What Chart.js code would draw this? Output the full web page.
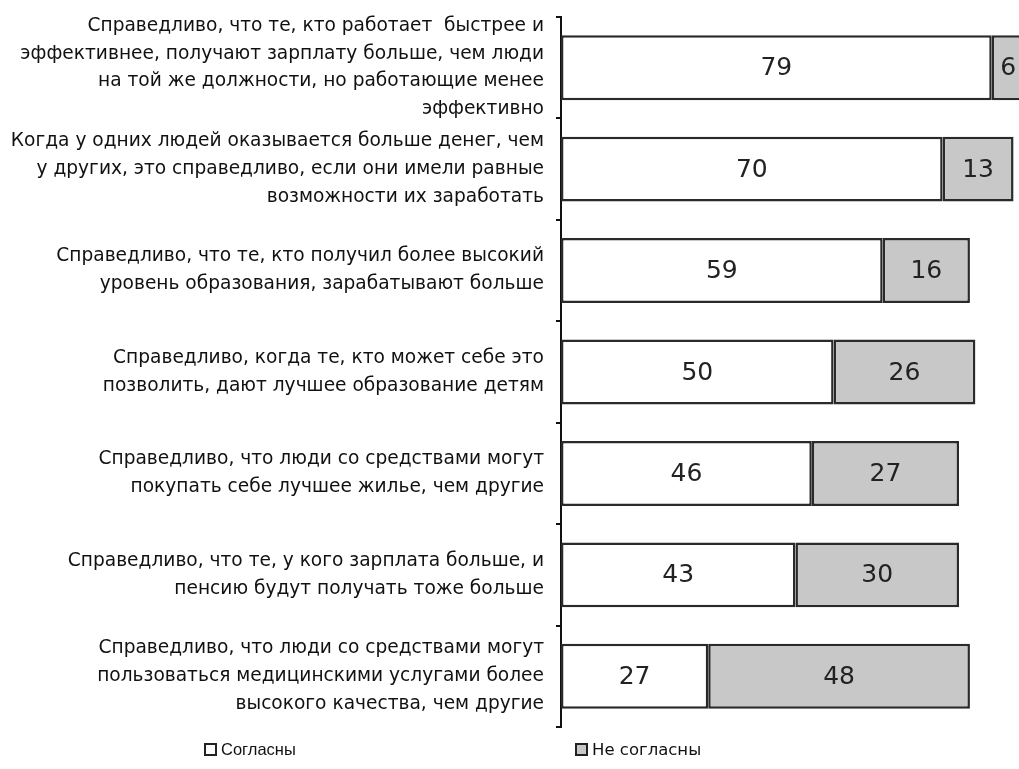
<!DOCTYPE html>
<html><head><meta charset="utf-8">
<script src="https://cdn.jsdelivr.net/npm/chart.js@4/dist/chart.umd.min.js"></script>
<style>
html,body{margin:0;padding:0;background:#fff;}
#wrap{position:relative;width:1019px;height:769px;overflow:hidden;}
canvas{position:absolute;left:0;top:0;}
.lg{position:absolute;top:740px;font-size:17px;color:#111;display:flex;align-items:center;white-space:nowrap;}
.bx{display:inline-block;width:9px;height:9px;border:2px solid #222;margin-right:4px;}
</style></head>
<body><div id="wrap"><canvas id="c" width="1019" height="769"></canvas>
<div class="lg" style="left:204px;font-family:'Liberation Sans Narrow','Liberation Sans',sans-serif;font-size:16.5px;"><span class="bx" style="background:#fff"></span>Согласны</div>
<div class="lg" style="left:575px;font-family:'DejaVu Sans',sans-serif;font-size:16.5px;"><span class="bx" style="background:#c8c8c8"></span>Не согласны</div>
</div>
<script>
const categories = [
  ["Справедливо, что те, кто работает  быстрее и", "эффективнее, получают зарплату больше, чем люди", "на той же должности, но работающие менее", "эффективно"],
  ["Когда у одних людей оказывается больше денег, чем", "у других, это справедливо, если они имели равные", "возможности их заработать"],
  ["Справедливо, что те, кто получил более высокий", "уровень образования, зарабатывают больше"],
  ["Справедливо, когда те, кто может себе это", "позволить, дают лучшее образование детям"],
  ["Справедливо, что люди со средствами могут", "покупать себе лучшее жилье, чем другие"],
  ["Справедливо, что те, у кого зарплата больше, и", "пенсию будут получать тоже больше"],
  ["Справедливо, что люди со средствами могут", "пользоваться медицинскими услугами более", "высокого качества, чем другие"]
];
const agree = [79, 70, 59, 50, 46, 43, 27];
const disagree = [6, 13, 16, 26, 27, 30, 48];
const seriesNames = ["Согласны", "Не согласны"];

const valueLabels = {
  id: 'valueLabels',
  afterDatasetsDraw(chart) {
    const ctx = chart.ctx;
    ctx.save();
    ctx.font = "25px 'DejaVu Sans', sans-serif";
    ctx.fillStyle = '#222';
    ctx.textAlign = 'center';
    ctx.textBaseline = 'middle';
    chart.data.datasets.forEach((ds, di) => {
      chart.getDatasetMeta(di).data.forEach((bar, i) => {
        const cx = (bar.x + bar.base) / 2;
        ctx.fillText(String(ds.data[i]), cx, bar.y + 1);
      });
    });
    ctx.restore();
  }
};

new Chart(document.getElementById('c'), {
  type: 'bar',
  data: {
    labels: categories,
    datasets: [
      { label: seriesNames[0], data: agree, backgroundColor: '#ffffff', borderColor: '#2a2a2a', borderWidth: 2.5, borderSkipped: false },
      { label: seriesNames[1], data: disagree, backgroundColor: '#c8c8c8', borderColor: '#2a2a2a', borderWidth: 2.5, borderSkipped: false }
    ]
  },
  options: {
    indexAxis: 'y',
    responsive: false,
    animation: false,
    maintainAspectRatio: false,
    datasets: { bar: { barPercentage: 0.64, categoryPercentage: 1.0 } },
    layout: { padding: { top: 17, bottom: 42, left: 0, right: 0 } },
    plugins: { legend: { display: false }, tooltip: { enabled: false } },
    scales: {
      x: { stacked: true, min: 0, max: 84, display: false },
      y: {
        stacked: true,
        afterFit(scale) { scale.width = 561; scale.paddingTop = 0; scale.paddingBottom = 0; },
        border: { display: true, color: '#111', width: 2 },
        grid: { display: true, drawOnChartArea: false, drawTicks: true, tickLength: 5, color: '#111', lineWidth: 2, offset: true },
        ticks: {
          autoSkip: false,
          color: '#111',
          padding: 12,
          font: { family: "'DejaVu Sans', sans-serif", size: 18.6, lineHeight: 1.5 }
        }
      }
    }
  },
  plugins: [valueLabels]
});
</script>
</body></html>
